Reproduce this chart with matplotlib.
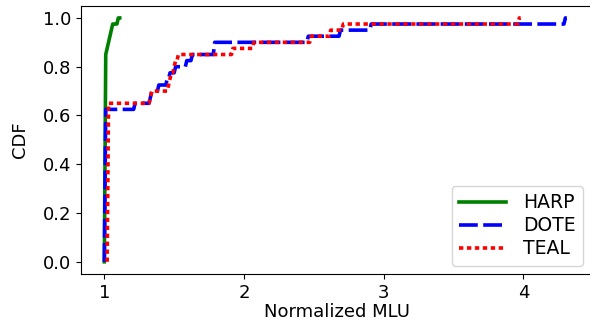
import matplotlib
matplotlib.use("Agg")
import matplotlib.pyplot as plt
import numpy as np

# Normalized MLU of each test snapshot (40 per scheme)
harp_mlu = [1.0] * 34 + [1.01, 1.02, 1.03, 1.04, 1.05, 1.09]
dote_mlu = (
    [1.0] * 25
    + [1.22, 1.33, 1.335, 1.385, 1.45, 1.465, 1.51, 1.59, 1.63, 1.785, 1.79]
    + [2.46, 2.69, 2.91, 4.30]
)
teal_mlu = (
    [1.025] * 26
    + [1.33, 1.335, 1.46, 1.47, 1.48, 1.50, 1.51, 1.53]
    + [1.92, 2.07, 2.48, 2.62, 2.71, 3.97]
)

SCHEMES = ["HARP", "DOTE", "TEAL"]
COLORS = {"HARP": "g", "DOTE": "b", "TEAL": "r"}
STYLES = {"HARP": "-", "DOTE": (0, (5.2, 1.5)), "TEAL": (0, (1.2, 1.0))}
BIN = 0.01
FONT = 13


def cdf_curve(values):
    vals = np.asarray(values, dtype=float)
    lo = np.floor(vals.min() / BIN + 1e-9) * BIN
    edges = np.arange(lo, vals.max() + 2 * BIN, BIN)
    counts, edges = np.histogram(vals, bins=edges)
    cum = np.concatenate([[0], np.cumsum(counts)]) / len(vals)
    return edges, cum


data = {"HARP": harp_mlu, "DOTE": dote_mlu, "TEAL": teal_mlu}

fig = plt.figure(figsize=(5.9, 3.24), dpi=100)
ax = fig.add_axes([0.1373, 0.1543, 0.8683, 0.828])

for name in SCHEMES:
    x, y = cdf_curve(data[name])
    ax.plot(x, y, color=COLORS[name], linestyle=STYLES[name], linewidth=2.6, label=name)

ax.set_xlim(0.833, 4.50)
ax.set_ylim(-0.05, 1.05)
ax.set_xticks([1, 2, 3, 4])
ax.set_yticks([0.0, 0.2, 0.4, 0.6, 0.8, 1.0])
ax.tick_params(labelsize=FONT)
ax.set_xlabel("Normalized MLU", fontsize=FONT, labelpad=1)
ax.set_ylabel("CDF", fontsize=FONT, labelpad=10)

ax.legend(
    loc="lower right",
    bbox_to_anchor=(583 / 590, 58 / 324),
    bbox_transform=fig.transFigure,
    borderaxespad=0,
    fontsize=13.5,
    handlelength=2.5,
    handletextpad=0.9,
    labelspacing=0.22,
)

fig.savefig("out.png", dpi=100)
